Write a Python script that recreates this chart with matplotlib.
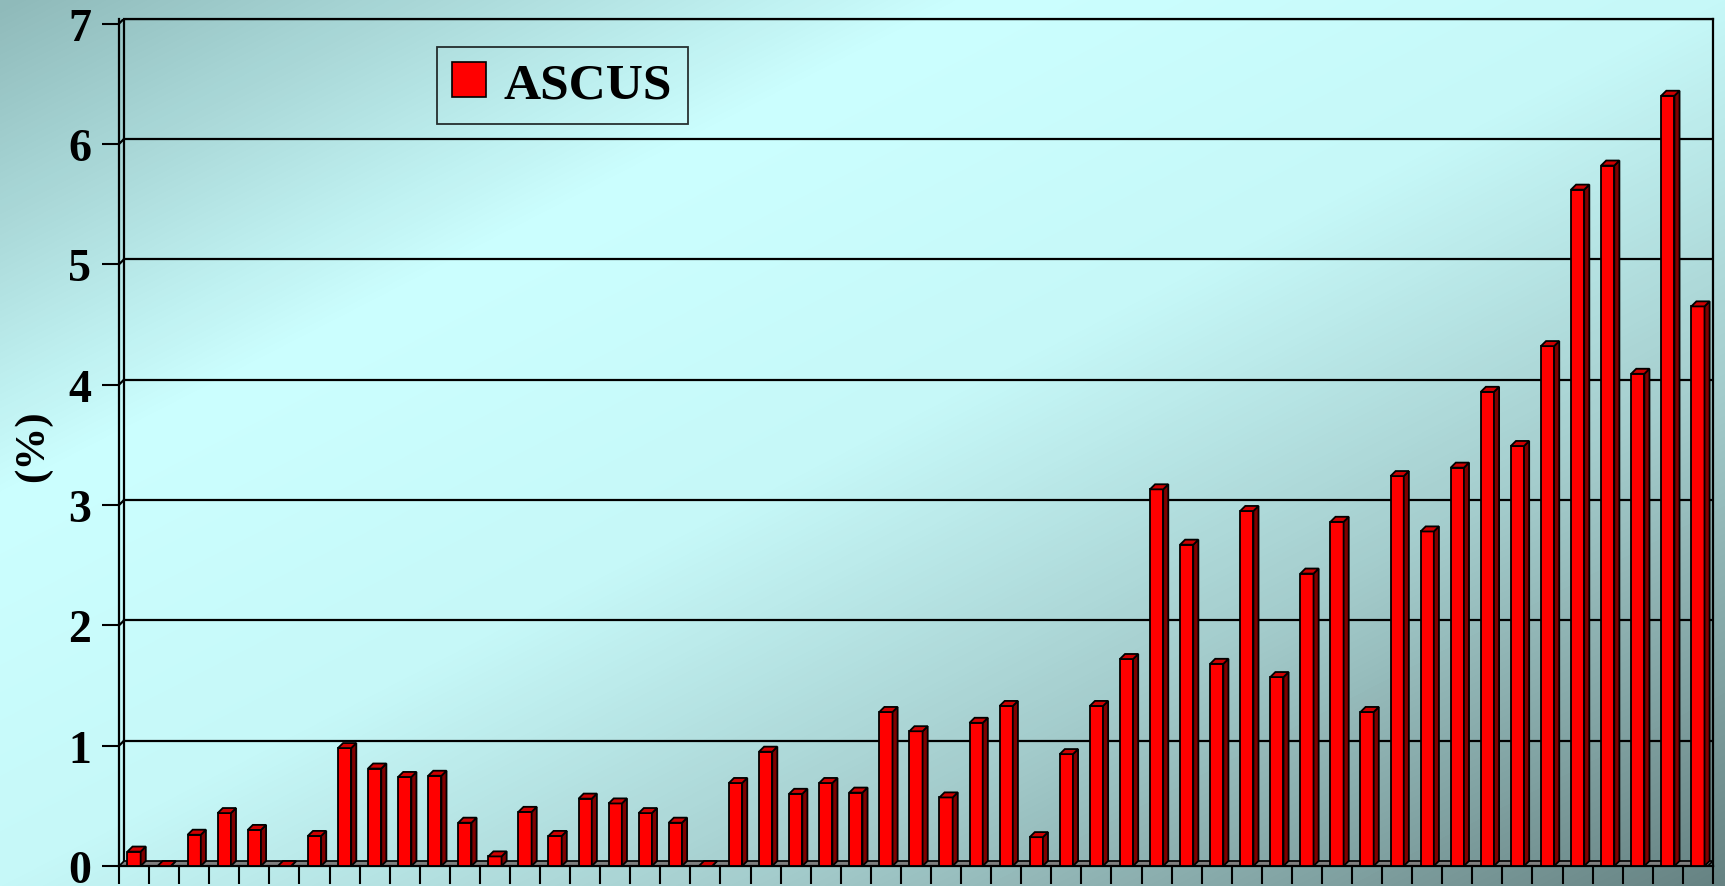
import numpy as np
import matplotlib.pyplot as plt
from matplotlib.colors import LinearSegmentedColormap
from matplotlib.patches import Polygon, Patch

values = [0.12, 0.0, 0.26, 0.44, 0.30, 0.0, 0.25, 0.98, 0.81, 0.74,
          0.75, 0.36, 0.08, 0.45, 0.25, 0.56, 0.52, 0.44, 0.36, 0.0,
          0.69, 0.95, 0.60, 0.69, 0.61, 1.28, 1.12, 0.57, 1.19, 1.33,
          0.24, 0.93, 1.33, 1.72, 3.13, 2.67, 1.68, 2.95, 1.57, 2.43,
          2.86, 1.28, 3.24, 2.78, 3.31, 3.94, 3.49, 4.32, 5.62, 5.82,
          4.09, 6.40, 4.65]
yticks = [0, 1, 2, 3, 4, 5, 6, 7]
series_name = 'ASCUS'

font = ['Liberation Serif', 'DejaVu Serif']
plt.rcParams['font.family'] = font
plt.rcParams['font.weight'] = 'bold'

fig = plt.figure(figsize=(17.25, 8.87), dpi=100)

# background gradient
bg = fig.add_axes([0, 0, 1, 1], zorder=-10)
H, W = 887, 1725
yy, xx = np.mgrid[0:H, 0:W]
t = (xx / W + yy / H) / 2.0
cmap = LinearSegmentedColormap.from_list('bg', [
    (0.0, '#8fbaba'), (0.28, '#ccffff'), (0.5, '#c6f8f8'),
    (0.72, '#a4cccc'), (1.0, '#668282')])
bg.imshow(t, cmap=cmap, aspect='auto', extent=[0, 1, 0, 1], vmin=0, vmax=1)
bg.axis('off')

ax = fig.add_axes([0.069, 0.0225, 0.924, 0.9555])
ax.set_facecolor('none')

n = len(values)
x = np.arange(n)
w = 0.44
dx = 0.17   # depth in category units
dy = 0.042  # depth in data units

ax.set_xlim(-0.5, n - 0.5)
ax.set_ylim(0, 7 + dy)

# gridlines on the back wall
for yv in yticks[1:]:
    ax.plot([-0.5 + dx, n - 0.5], [yv + dy, yv + dy], color='black', lw=1.6, zorder=1)
    ax.plot([-0.5, -0.5 + dx], [yv, yv + dy], color='black', lw=1.6, zorder=1)
# inner wall line
ax.plot([-0.5 + dx, -0.5 + dx], [dy, 7 + dy], color='black', lw=1.6, zorder=1)

# floor
floor = Polygon([(-0.5, 0), (n - 0.5 - dx, 0), (n - 0.5, dy), (-0.5 + dx, dy)],
                closed=True, facecolor='#808080', edgecolor='black', lw=1.2, zorder=2)
ax.add_patch(floor)

bars = ax.bar(x, values, width=w, color='#ff0000', edgecolor='black', lw=1.3, zorder=3)
for xi, v in zip(x, values):
    r = xi + w / 2
    l = xi - w / 2
    side = Polygon([(r, 0), (r + dx, dy), (r + dx, v + dy), (r, v)], closed=True,
                   facecolor='#800000', edgecolor='black', lw=1.3, zorder=3)
    top = Polygon([(l, v), (r, v), (r + dx, v + dy), (l + dx, v + dy)], closed=True,
                  facecolor='#d00000', edgecolor='black', lw=1.3, zorder=3)
    ax.add_patch(side)
    ax.add_patch(top)

ax.spines['top'].set_visible(False)
ax.plot([-0.5 + dx, n - 0.5], [7 + dy, 7 + dy], color='black', lw=1.6, clip_on=False)
for s in ['left', 'bottom', 'right']:
    ax.spines[s].set_linewidth(1.6)

ax.set_yticks(yticks)
ax.set_yticklabels([str(v) for v in yticks], fontsize=33, fontweight='bold')
ax.set_xticks(np.arange(-0.5, n, 1.0))
ax.set_xticklabels([])
ax.tick_params(axis='y', direction='out', length=12, width=1.5, pad=8)
ax.tick_params(axis='x', direction='out', length=13, width=1.5)

fig.text(33 / W, 1 - 446 / H, '(%)', rotation=90, fontsize=31, fontweight='bold',
         ha='center', va='center')

handle = Patch(facecolor='#ff0000', edgecolor='black', lw=1.2)
leg = fig.legend([handle], [series_name], loc='upper left',
                 bbox_to_anchor=(437 / W, 1 - 48 / H), borderaxespad=0,
                 prop={'family': font, 'weight': 'bold', 'size': 37},
                 handlelength=0.65, handleheight=0.65, handletextpad=0.35,
                 borderpad=0.3, fancybox=False, edgecolor='black')
leg.get_frame().set_facecolor('none')
leg.get_frame().set_linewidth(1.3)

fig.savefig('out.png', dpi=100)
